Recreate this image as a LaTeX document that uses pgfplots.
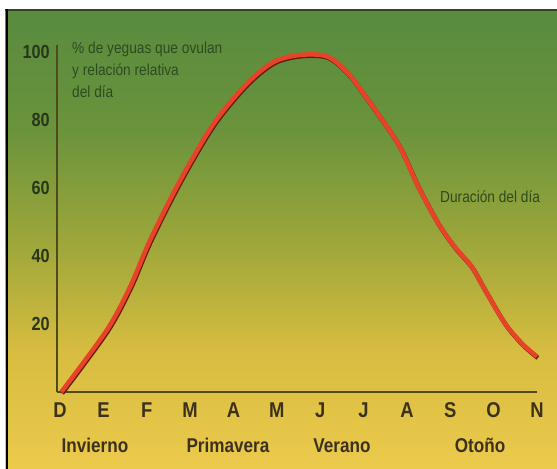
\documentclass[border=0pt]{standalone}
\usepackage{pgfplots}
\pgfplotsset{compat=1.18}
\usepackage{fontspec}
\setmainfont{Liberation Sans}[FakeStretch=0.86]
\definecolor{c0}{RGB}{236,202,76}
\definecolor{c1}{RGB}{214,188,64}
\definecolor{c2}{RGB}{155,166,58}
\definecolor{c3}{RGB}{106,147,60}
\definecolor{c4}{RGB}{88,139,62}
\definecolor{topline}{RGB}{48,70,40}
\definecolor{axisc}{RGB}{80,75,30}
\definecolor{monthc}{RGB}{60,50,28}
\definecolor{tickc}{RGB}{40,55,25}
\definecolor{titlec}{RGB}{45,75,30}
\definecolor{curvec}{RGB}{232,66,40}
\definecolor{shadowc}{RGB}{100,30,15}
\begin{document}
\begin{tikzpicture}
\fill[white] (0bp,0bp) rectangle (557bp,469bp);
\useasboundingbox (0bp,0bp) rectangle (557bp,469bp);
\shade[bottom color=c0, top color=c1] (5bp,0bp) rectangle (557bp,120.5bp);
\shade[bottom color=c1, top color=c2] (5bp,120bp) rectangle (557bp,230.5bp);
\shade[bottom color=c2, top color=c3] (5bp,230bp) rectangle (557bp,340.5bp);
\shade[bottom color=c3, top color=c4] (5bp,340bp) rectangle (557bp,459bp);
\draw[topline, line width=2bp] (5bp,459bp) -- (557bp,459bp);
\draw[black, line width=2.5bp] (7bp,0bp) -- (7bp,460bp);
\begin{axis}[
  at={(57bp,77bp)}, anchor=south west,
  scale only axis, width=480bp, height=347bp,
  xmin=-0.07, xmax=11, ymin=0, ymax=102,
  axis lines*=left,
  axis line style={-, draw=axisc, line width=1.3bp},
  xtick={0,...,11},
  xticklabels={D,E,F,M,A,M,J,J,A,S,O,N},
  ytick={20,40,60,80,100},
  yticklabels={20,40,60,80,100},
  major tick length=0pt,
  xticklabel style={font=\fontsize{21.5}{21.5}\selectfont\bfseries, text=monthc, anchor=base, yshift=-26bp, inner sep=0pt},
  yticklabel style={font=\fontsize{19}{19}\selectfont\bfseries, text=tickc, anchor=east, xshift=-7bp, inner sep=0pt},
  clip=false,
]
\addplot[smooth, tension=0.5, line width=4.5bp, shadowc, xshift=0.8bp, yshift=-1.3bp] coordinates {
(0.03,0) (1.08,18.2) (1.62,31) (2.08,44.7) (2.78,62.4) (3.55,79) (4.32,90.8) (4.94,97.1) (5.56,99.1) (6.17,98.6) (6.64,93.7) (7.1,85.9) (7.79,73.1) (8.26,60.4) (8.72,49.6) (9.1,42.7) (9.49,36.9) (9.8,30) (10.26,20.2) (10.65,14.3) (11.0,10.4)
};
\addplot[smooth, tension=0.5, line width=4.5bp, curvec] coordinates {
(0.03,0) (1.08,18.2) (1.62,31) (2.08,44.7) (2.78,62.4) (3.55,79) (4.32,90.8) (4.94,97.1) (5.56,99.1) (6.17,98.6) (6.64,93.7) (7.1,85.9) (7.79,73.1) (8.26,60.4) (8.72,49.6) (9.1,42.7) (9.49,36.9) (9.8,30) (10.26,20.2) (10.65,14.3) (11.0,10.4)
};
\end{axis}
\begin{scope}[every node/.style={inner sep=0pt, font=\fontsize{16}{16}\selectfont, text=titlec, anchor=base west}]
\node at (72bp,415bp) {\% de yeguas que ovulan};
\node at (72bp,393bp) {y relación relativa};
\node at (72bp,371bp) {del día};
\node at (440bp,266bp) {Duración del día};
\end{scope}
\begin{scope}[every node/.style={inner sep=0pt, font=\fontsize{20}{20}\selectfont\bfseries, text=monthc, anchor=base}]
\node at (95bp,17bp) {Invierno};
\node at (228bp,17bp) {Primavera};
\node at (342bp,17bp) {Verano};
\node at (480bp,17bp) {Otoño};
\end{scope}
\end{tikzpicture}
\end{document}
